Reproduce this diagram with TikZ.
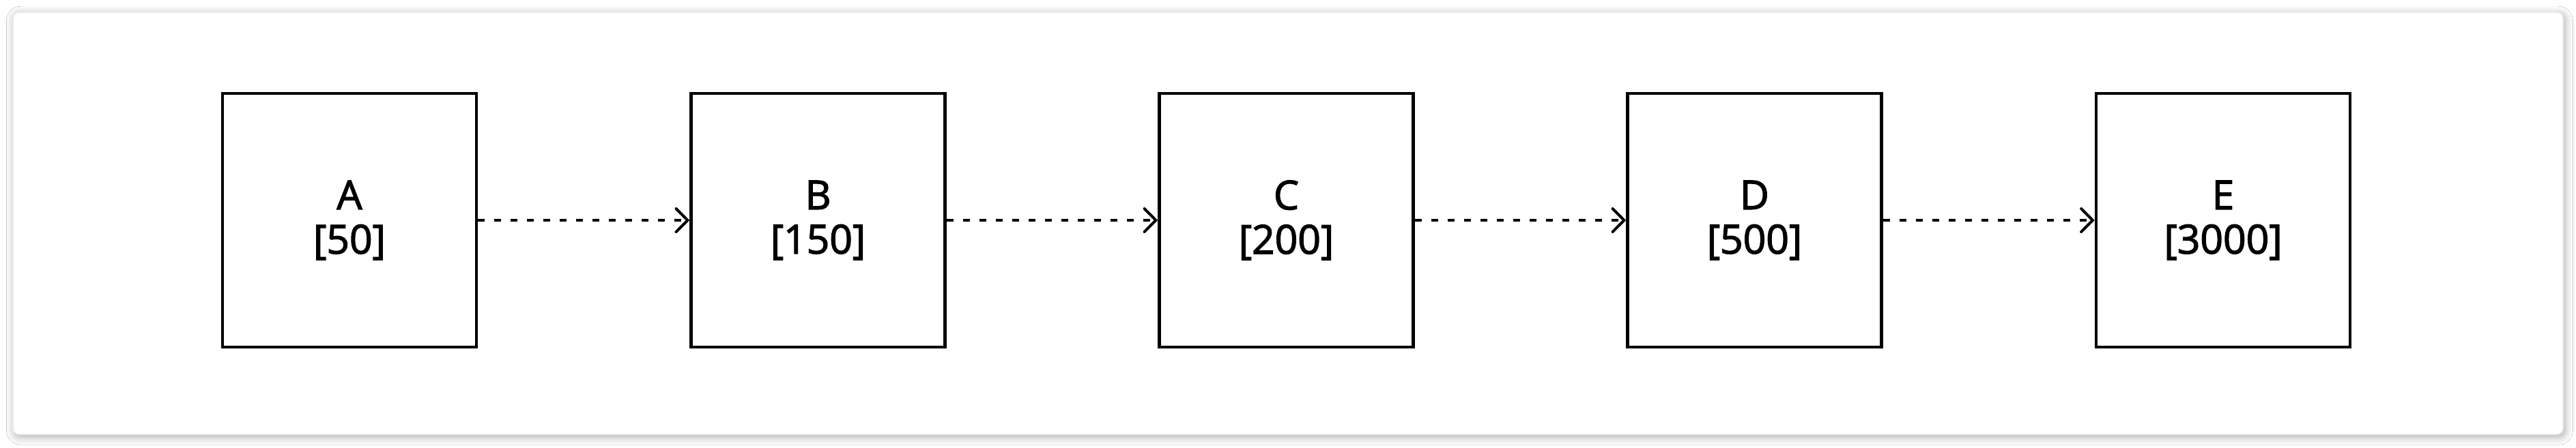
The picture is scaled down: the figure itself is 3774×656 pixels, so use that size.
\documentclass[tikz,border=0pt]{standalone}
\usepackage{fontspec}
\setmainfont{Open Sans}
\newfontfamily\boxfont[FakeBold=2.2]{Open Sans}
\usetikzlibrary{arrows.meta,shadows.blur}
\tikzset{
  stagebox/.style={draw=black, line width=1.15pt, minimum width=93pt, minimum height=93pt,
    inner sep=0pt, align=center, font=\boxfont\fontsize{14.7}{16.25}\selectfont, fill=white},
  flow/.style={line width=1pt, dash pattern=on 2.5pt off 3.5pt,
    -{Straight Barb[length=4.2pt,width=8.5pt,line cap=round,line width=1pt]}},
  frame/.style={draw=black!8, fill=white, rounded corners=2.2pt,
    blur shadow={shadow xshift=0.6pt, shadow yshift=-0.8pt, shadow blur radius=3pt, shadow opacity=35}}
}
\begin{document}
\begin{tikzpicture}[x=0.25pt,y=-0.25pt]
\useasboundingbox (0,0) rectangle (3774,656);
\fill[white] (0,0) rectangle (3774,656);
\node[frame, minimum width=934pt, minimum height=154.75pt, inner sep=0pt] (bg) at (1887,327.5) {};
\node[stagebox] (a) at (512,323) {A\\{[50]}};
\node[stagebox] (b) at (1198.5,323) {B\\{[150]}};
\node[stagebox] (c) at (1884.5,323) {C\\{[200]}};
\node[stagebox] (d) at (2570.5,323) {D\\{[500]}};
\node[stagebox] (e) at (3257,323) {E\\{[3000]}};
\draw[flow] (a) -- (b);
\draw[flow] (b) -- (c);
\draw[flow] (c) -- (d);
\draw[flow] (d) -- (e);
\end{tikzpicture}
\end{document}
